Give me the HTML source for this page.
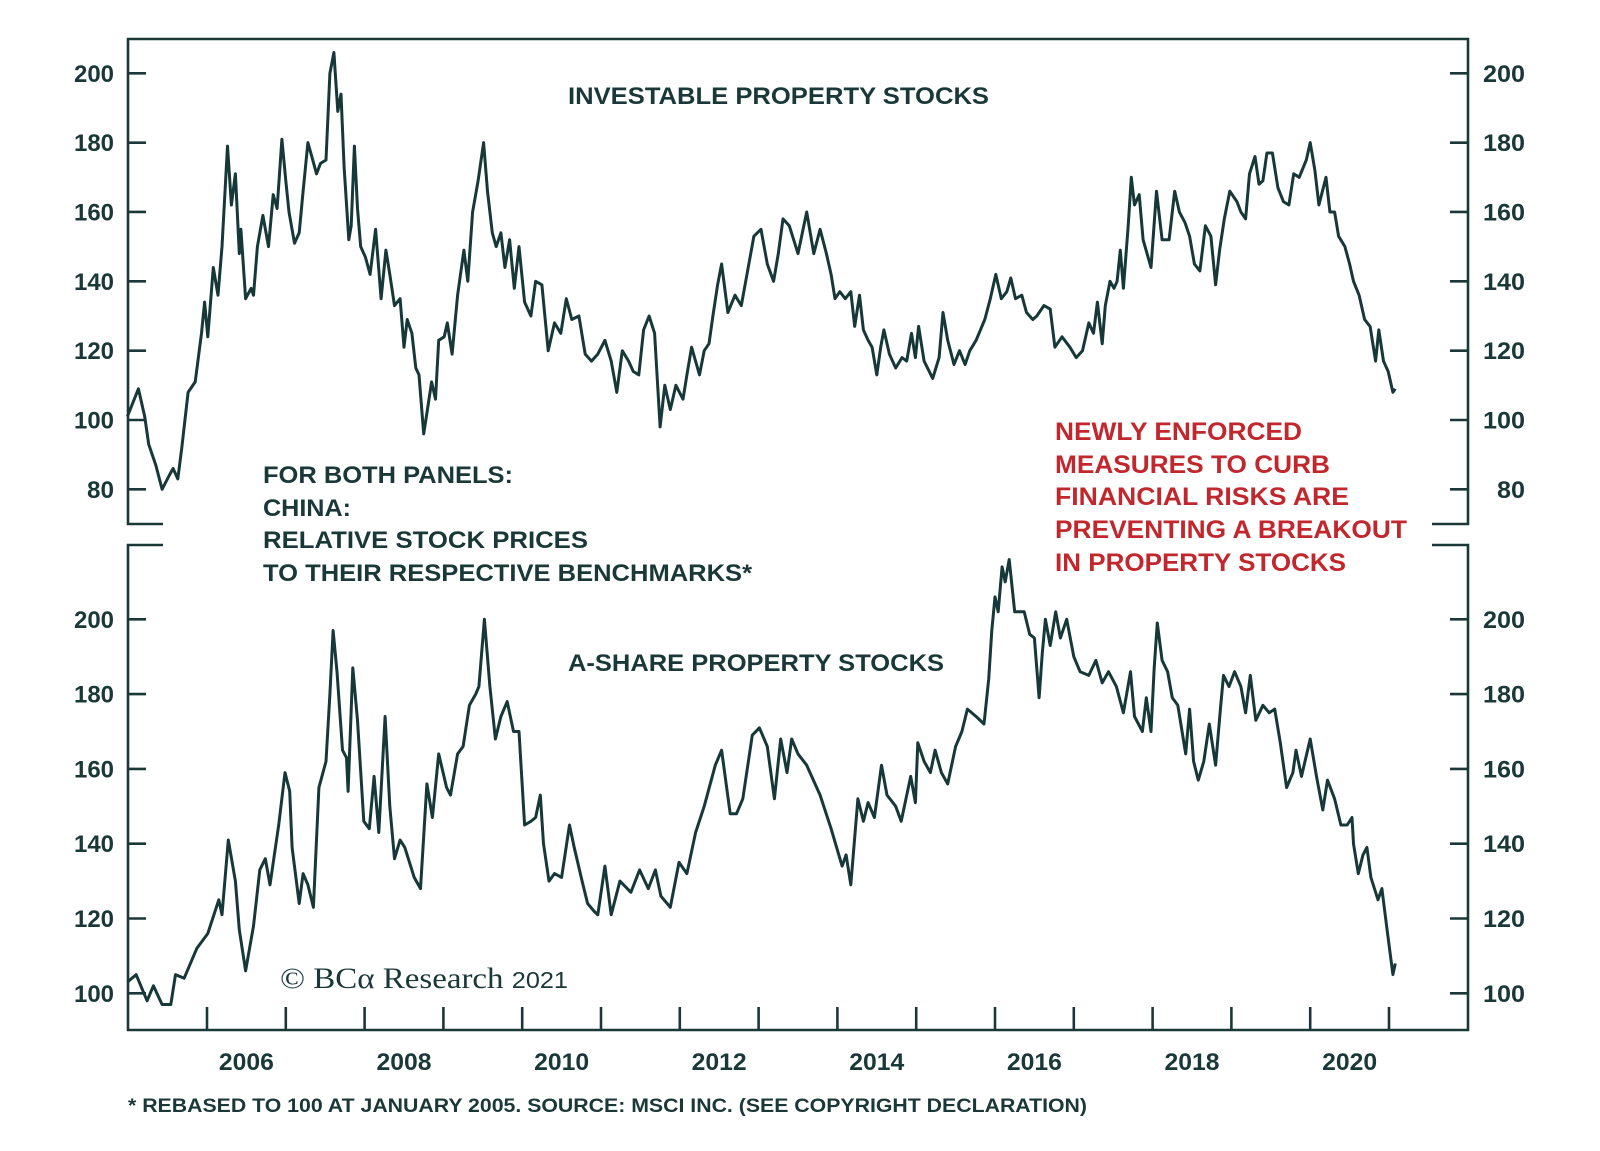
<!DOCTYPE html>
<html><head><meta charset="utf-8"><style>
html,body{margin:0;padding:0;background:#fff;}
svg{display:block;}
text{font-family:"Liberation Sans",Arial,sans-serif;font-weight:bold;fill:#1b3838;}
</style></head><body>
<svg id="chart" width="1600" height="1151" viewBox="0 0 1600 1151" xmlns="http://www.w3.org/2000/svg">
<rect x="0" y="0" width="1600" height="1151" fill="#fff"/>
<g id="frame" stroke="#1b3838" stroke-width="2.6" fill="none">
<polyline points="163,524 128,524 128,39 1468,39 1468,524 1432,524"/>
<polyline points="163,545 128,545 128,1030 1468,1030 1468,545 1432,545"/>
</g>
<g id="axes"></g>
<g id="series"></g>
<text x="568" y="104" font-size="24" textLength="421" lengthAdjust="spacingAndGlyphs">INVESTABLE PROPERTY STOCKS</text>
<text x="568" y="671" font-size="24" textLength="376" lengthAdjust="spacingAndGlyphs">A-SHARE PROPERTY STOCKS</text>
<g font-size="24">
<text x="263" y="483" textLength="250" lengthAdjust="spacingAndGlyphs">FOR BOTH PANELS:</text>
<text x="263" y="516" textLength="88" lengthAdjust="spacingAndGlyphs">CHINA:</text>
<text x="263" y="548" textLength="325" lengthAdjust="spacingAndGlyphs">RELATIVE STOCK PRICES</text>
<text x="263" y="581" textLength="489" lengthAdjust="spacingAndGlyphs">TO THEIR RESPECTIVE BENCHMARKS*</text>
</g>
<g font-size="25">
<text x="1055" y="440" fill="#c1272d" style="fill:#c1272d" textLength="247" lengthAdjust="spacingAndGlyphs">NEWLY ENFORCED</text>
<text x="1055" y="473" fill="#c1272d" style="fill:#c1272d" textLength="275" lengthAdjust="spacingAndGlyphs">MEASURES TO CURB</text>
<text x="1055" y="505" fill="#c1272d" style="fill:#c1272d" textLength="294" lengthAdjust="spacingAndGlyphs">FINANCIAL RISKS ARE</text>
<text x="1055" y="538" fill="#c1272d" style="fill:#c1272d" textLength="352" lengthAdjust="spacingAndGlyphs">PREVENTING A BREAKOUT</text>
<text x="1055" y="571" fill="#c1272d" style="fill:#c1272d" textLength="291" lengthAdjust="spacingAndGlyphs">IN PROPERTY STOCKS</text>
</g>
<text x="280" y="988" textLength="288" lengthAdjust="spacingAndGlyphs" style="font-family:'Liberation Serif',serif;font-weight:normal;font-size:30px">© BCα Research <tspan style="font-family:'Liberation Sans',sans-serif;font-size:23px">2021</tspan></text>
<text x="128" y="1112" font-size="19" textLength="959" lengthAdjust="spacingAndGlyphs">* REBASED TO 100 AT JANUARY 2005. SOURCE: MSCI INC. (SEE COPYRIGHT DECLARATION)</text>
</svg>
<script>
const topYears=[2004.99,2005.13,2005.21,2005.26,2005.35,2005.43,2005.52,2005.57,2005.63,2005.68,2005.76,2005.85,2005.93,2005.97,2006.01,2006.08,2006.14,2006.19,2006.26,2006.31,2006.36,2006.41,2006.43,2006.49,2006.56,2006.59,2006.64,2006.71,2006.78,2006.84,2006.89,2006.95,2007.00,2007.04,2007.11,2007.17,2007.22,2007.28,2007.33,2007.39,2007.44,2007.51,2007.56,2007.61,2007.66,2007.70,2007.74,2007.80,2007.83,2007.87,2007.91,2007.95,2008.01,2008.07,2008.14,2008.21,2008.27,2008.32,2008.38,2008.45,2008.50,2008.54,2008.60,2008.65,2008.69,2008.75,2008.79,2008.85,2008.90,2008.94,2009.01,2009.05,2009.11,2009.18,2009.26,2009.31,2009.37,2009.44,2009.51,2009.56,2009.62,2009.67,2009.73,2009.78,2009.84,2009.90,2009.96,2010.03,2010.11,2010.17,2010.25,2010.33,2010.41,2010.49,2010.56,2010.63,2010.72,2010.80,2010.88,2010.96,2011.05,2011.13,2011.20,2011.27,2011.35,2011.41,2011.48,2011.54,2011.61,2011.68,2011.75,2011.81,2011.88,2011.95,2012.04,2012.09,2012.15,2012.25,2012.31,2012.37,2012.42,2012.48,2012.53,2012.61,2012.70,2012.78,2012.86,2012.94,2013.03,2013.11,2013.19,2013.25,2013.31,2013.39,2013.50,2013.61,2013.70,2013.78,2013.86,2013.92,2013.97,2014.03,2014.10,2014.17,2014.22,2014.28,2014.33,2014.39,2014.44,2014.50,2014.55,2014.59,2014.66,2014.74,2014.82,2014.88,2014.94,2014.99,2015.03,2015.10,2015.21,2015.29,2015.34,2015.40,2015.48,2015.55,2015.62,2015.68,2015.76,2015.87,2015.94,2016.01,2016.08,2016.15,2016.20,2016.26,2016.34,2016.40,2016.48,2016.53,2016.62,2016.70,2016.76,2016.85,2016.95,2017.03,2017.11,2017.19,2017.25,2017.30,2017.36,2017.40,2017.46,2017.51,2017.55,2017.59,2017.63,2017.69,2017.73,2017.77,2017.83,2017.88,2017.98,2018.05,2018.12,2018.21,2018.28,2018.34,2018.41,2018.47,2018.53,2018.60,2018.67,2018.74,2018.80,2018.85,2018.91,2018.98,2019.07,2019.12,2019.18,2019.23,2019.30,2019.35,2019.40,2019.45,2019.52,2019.59,2019.66,2019.73,2019.79,2019.86,2019.95,2020.00,2020.06,2020.11,2020.20,2020.25,2020.31,2020.36,2020.44,2020.50,2020.55,2020.62,2020.69,2020.76,2020.83,2020.87,2020.93,2020.99,2021.05,2021.08];
const topValues=[101,109,101,93,87,80,84,86,83,92,108,111,125,134,124,144,136,150,179,162,171,148,155,135,138,136,150,159,150,165,161,181,169,160,151,154,166,180,176,171,174,175,200,206,189,194,173,152,156,179,161,150,147,142,155,135,149,142,133,135,121,129,125,115,113,96,102,111,106,123,124,128,119,136,149,140,160,169,180,166,154,150,154,144,152,138,150,134,130,140,139,120,128,125,135,129,130,119,117,119,123,117,108,120,117,114,113,126,130,125,98,110,103,110,106,113,121,113,120,122,130,139,145,131,136,133,143,153,155,145,140,148,158,156,148,160,148,155,148,142,135,137,135,137,127,136,126,123,121,113,121,126,119,115,118,117,125,118,127,117,112,118,131,123,116,120,116,120,123,129,135,142,135,137,141,135,136,131,129,130,133,132,121,124,121,118,120,128,125,134,122,133,140,138,140,149,138,156,170,162,165,152,144,166,152,152,166,160,157,153,145,143,156,153,139,149,158,166,163,160,158,171,176,168,169,177,177,167,163,162,171,170,175,180,172,162,170,160,160,153,150,145,140,136,129,127,117,126,117,114,108,109];
const aYears=[2004.99,2005.10,2005.24,2005.32,2005.43,2005.54,2005.60,2005.71,2005.87,2006.01,2006.15,2006.19,2006.27,2006.36,2006.41,2006.49,2006.59,2006.67,2006.74,2006.80,2006.91,2006.99,2007.05,2007.08,2007.17,2007.22,2007.28,2007.35,2007.42,2007.51,2007.56,2007.60,2007.65,2007.72,2007.77,2007.79,2007.85,2007.91,2007.99,2008.06,2008.12,2008.18,2008.26,2008.32,2008.38,2008.45,2008.51,2008.63,2008.71,2008.79,2008.86,2008.94,2009.04,2009.09,2009.18,2009.25,2009.33,2009.41,2009.45,2009.52,2009.59,2009.66,2009.73,2009.81,2009.89,2009.96,2010.03,2010.11,2010.17,2010.23,2010.27,2010.34,2010.41,2010.50,2010.60,2010.66,2010.76,2010.83,2010.91,2010.96,2011.05,2011.13,2011.24,2011.38,2011.49,2011.60,2011.69,2011.76,2011.88,2011.99,2012.09,2012.20,2012.31,2012.45,2012.53,2012.64,2012.72,2012.80,2012.92,2013.01,2013.11,2013.20,2013.28,2013.36,2013.42,2013.50,2013.61,2013.78,2013.92,2014.06,2014.11,2014.17,2014.26,2014.33,2014.39,2014.47,2014.56,2014.63,2014.74,2014.81,2014.93,2014.99,2015.02,2015.10,2015.18,2015.24,2015.32,2015.40,2015.50,2015.58,2015.65,2015.76,2015.86,2015.92,2015.96,2016.00,2016.04,2016.09,2016.13,2016.18,2016.25,2016.31,2016.37,2016.44,2016.50,2016.56,2016.60,2016.64,2016.70,2016.77,2016.83,2016.91,2017.00,2017.08,2017.19,2017.28,2017.36,2017.44,2017.54,2017.63,2017.72,2017.77,2017.87,2017.92,2017.98,2018.02,2018.06,2018.12,2018.19,2018.25,2018.32,2018.42,2018.47,2018.52,2018.58,2018.65,2018.72,2018.80,2018.86,2018.90,2018.97,2019.04,2019.12,2019.18,2019.24,2019.31,2019.40,2019.48,2019.55,2019.62,2019.70,2019.78,2019.82,2019.89,2020.00,2020.08,2020.16,2020.22,2020.31,2020.39,2020.47,2020.53,2020.55,2020.61,2020.67,2020.72,2020.77,2020.86,2020.91,2020.97,2021.05,2021.08];
const aValues=[103,105,98,102,97,97,105,104,112,116,125,121,141,130,117,106,118,133,136,129,145,159,154,139,124,132,129,123,155,162,180,197,186,165,163,154,187,173,146,144,158,143,174,150,136,141,139,131,128,156,147,164,155,153,164,166,177,180,182,200,182,168,174,178,170,170,145,146,147,153,140,130,132,131,145,139,130,124,122,121,134,121,130,127,133,128,133,126,123,135,132,143,150,161,165,148,148,152,169,171,166,152,168,159,168,164,161,153,144,134,137,129,152,146,151,147,161,153,150,146,158,151,167,162,159,165,159,156,166,170,176,174,172,184,197,206,202,214,210,216,202,202,202,196,195,179,191,200,193,202,195,200,190,186,185,189,183,186,182,175,186,174,170,179,170,187,199,189,186,179,177,164,176,162,157,162,172,161,176,185,182,186,182,175,185,173,177,175,176,167,155,159,165,158,168,158,149,157,152,145,145,147,140,132,137,139,131,125,128,118,105,108];
const topTicks=[80,100,120,140,160,180,200];
const aTicks=[100,120,140,160,180,200];
const yearTicks=[2006,2007,2008,2009,2010,2011,2012,2013,2014,2015,2016,2017,2018,2019,2020,2021];
const yearLabels=[2006,2008,2010,2012,2014,2016,2018,2020];

const NS='http://www.w3.org/2000/svg';
function xScale(t){return 207+(t-2006)*78.8;}
function yTop(v){return 73.3+(200-v)*3.467;}
function yA(v){return 619.3+(200-v)*3.74;}
function mk(tag,attrs,parent){const e=document.createElementNS(NS,tag);for(const k in attrs)e.setAttribute(k,attrs[k]);parent.appendChild(e);return e;}
const axes=document.getElementById('axes');
const series=document.getElementById('series');
const C='#1b3838';
function yAxis(ticks,sc,panel){
  ticks.forEach(v=>{
    const y=sc(v);
    const l1=mk('line',{x1:128,x2:146,y1:y,y2:y,stroke:C,'stroke-width':2.6},axes);
    
    
    const l2=mk('line',{x1:1450,x2:1468,y1:y,y2:y,stroke:C,'stroke-width':2.6},axes);
    
    
    const t1=mk('text',{x:114,y:y+8.5,'text-anchor':'end','font-size':24,textLength:40,lengthAdjust:'spacingAndGlyphs'},axes);
    t1.textContent=v;
    if(v<100){t1.setAttribute('textLength',27);}
    
    
    const t2=mk('text',{x:1483,y:y+8.5,'font-size':24,textLength:42,lengthAdjust:'spacingAndGlyphs'},axes);
    t2.textContent=v;
    if(v<100){t2.setAttribute('textLength',28);t2.setAttribute('x',1497);}
    
    
  });
}
yAxis(topTicks,yTop,'top');
yAxis(aTicks,yA,'bottom');
yearTicks.forEach(yr=>{
  const x=xScale(yr);
  const l=mk('line',{x1:x,x2:x,y1:1007,y2:1030,stroke:C,'stroke-width':2.6},axes);
  
  
});
yearLabels.forEach(yr=>{
  const t=mk('text',{x:xScale(yr+0.5),y:1070,'text-anchor':'middle','font-size':24,textLength:55,lengthAdjust:'spacingAndGlyphs'},axes);
  t.textContent=yr;
  
  
});
function line(xs,vs,sc,name){
  let d='';
  for(let i=0;i<xs.length;i++){d+=(i?'L':'M')+xScale(xs[i]).toFixed(1)+','+sc(vs[i]).toFixed(1);}
  const p=mk('path',{d:d,fill:'none',stroke:'#173838','stroke-width':3,'stroke-linejoin':'round'},series);
  
  
}
line(topYears,topValues,yTop,'investable-property-line');
line(aYears,aValues,yA,'a-share-property-line');
</script>
</body></html>
